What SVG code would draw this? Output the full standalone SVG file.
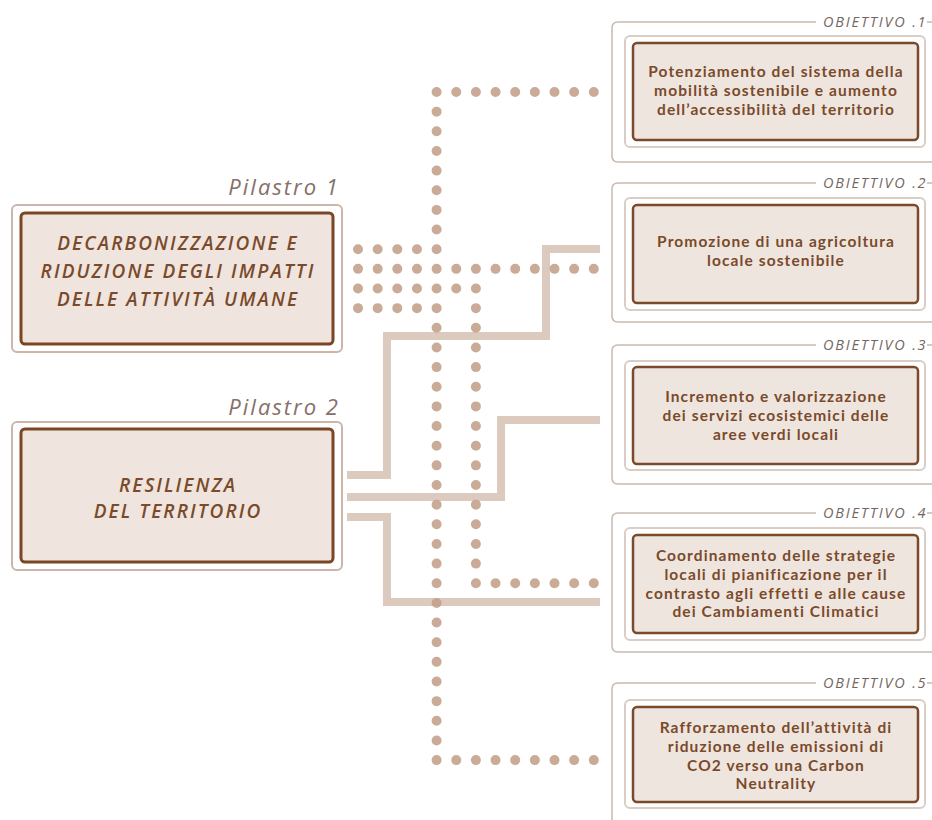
<svg xmlns="http://www.w3.org/2000/svg" width="932" height="820" viewBox="0 0 932 820">
<defs>
<style>
.bg{fill:#ffffff}
.pt{font-family:"Open Sans","Liberation Sans",sans-serif;font-style:italic;font-size:22px;fill:#86706a;letter-spacing:2px;text-anchor:end}
.po{fill:#ffffff;stroke:#cbb6a9;stroke-width:2}
.pi{fill:#efe4de;stroke:#7a4624;stroke-width:3}
.ptx{font-family:"Open Sans","Liberation Sans",sans-serif;font-style:italic;font-weight:600;font-size:19px;fill:#7a4a2a;letter-spacing:2.1px;text-anchor:middle}
.oo{fill:none;stroke:#c9b9af;stroke-width:1.5}
.om{fill:#ffffff;stroke:#dacdc5;stroke-width:2}
.oi{fill:#efe5df;stroke:#7a4a2a;stroke-width:2.5}
.otx{font-family:Lato,"Open Sans","Liberation Sans",sans-serif;font-weight:700;font-size:15.5px;fill:#7a4a2a;letter-spacing:1.1px;text-anchor:middle}
.ol{font-family:"Open Sans","Liberation Sans",sans-serif;font-style:italic;font-size:14.5px;fill:#74665f;letter-spacing:1.8px}
.sl{fill:none;stroke:#dccabf;stroke-width:8}
.dt{fill:none;stroke:#c4a28c;stroke-width:10;stroke-linecap:round;stroke-dasharray:0 19.65;opacity:0.9}
</style>
</defs>
<rect class="bg" x="0" y="0" width="932" height="820"/>

<g id="connectors">
  <path class="sl" d="M347 475 H387 V336 H546 V249 H600"/>
  <path class="sl" d="M347 497 H501 V420 H600"/>
  <path class="sl" d="M347 517 H387 V602 H600"/>
  <path class="dt" d="M358 249.2 H436.6 V92 H594.4"/>
  <path class="dt" d="M358 268.85 H594.4"/>
  <path class="dt" d="M358 288.5 H475.9 V583.25 H594.4"/>
  <path class="dt" d="M358 308.15 H436.6 V760.1 H594.4"/>
</g>

<g id="pilastro1">
  <text class="pt" x="340" y="195">Pilastro 1</text>
  <rect class="po" x="12" y="205" width="330" height="147" rx="5"/>
  <rect class="pi" x="21" y="213" width="312" height="131" rx="4"/>
  <text class="ptx" x="178" y="250">DECARBONIZZAZIONE E<tspan x="178" dy="28">RIDUZIONE DEGLI IMPATTI</tspan><tspan x="178" dy="28">DELLE ATTIVITÀ UMANE</tspan></text>
</g>

<g id="pilastro2">
  <text class="pt" x="340" y="415">Pilastro 2</text>
  <rect class="po" x="12" y="422" width="330" height="148" rx="5"/>
  <rect class="pi" x="21" y="429" width="312" height="133" rx="4"/>
  <text class="ptx" x="178" y="492">RESILIENZA<tspan x="178" dy="26">DEL TERRITORIO</tspan></text>
</g>

<g id="obiettivo1">
  <path class="oo" d="M816 22 H618 Q612 22 612 28 V156 Q612 162 618 162 H945 M927 22 H945"/>
  <text class="ol" x="823" y="27">OBIETTIVO .1</text>
  <rect class="om" x="625" y="36" width="300" height="111" rx="5"/>
  <rect class="oi" x="633" y="43" width="285" height="97" rx="4"/>
  <text class="otx" x="776" y="77">Potenziamento del sistema della<tspan x="776" dy="19">mobilità sostenibile e aumento</tspan><tspan x="776" dy="19">dell’accessibilità del territorio</tspan></text>
</g>

<g id="obiettivo2">
  <path class="oo" d="M816 183 H618 Q612 183 612 189 V316 Q612 322 618 322 H945 M927 183 H945"/>
  <text class="ol" x="823" y="188">OBIETTIVO .2</text>
  <rect class="om" x="625" y="198" width="300" height="112" rx="5"/>
  <rect class="oi" x="633" y="205" width="285" height="98" rx="4"/>
  <text class="otx" x="776" y="247">Promozione di una agricoltura<tspan x="776" dy="19">locale sostenibile</tspan></text>
</g>

<g id="obiettivo3">
  <path class="oo" d="M816 345 H618 Q612 345 612 351 V478 Q612 484 618 484 H945 M927 345 H945"/>
  <text class="ol" x="823" y="350">OBIETTIVO .3</text>
  <rect class="om" x="625" y="361" width="300" height="109" rx="5"/>
  <rect class="oi" x="633" y="367" width="285" height="97" rx="4"/>
  <text class="otx" x="776" y="402">Incremento e valorizzazione<tspan x="776" dy="18.8">dei servizi ecosistemici delle</tspan><tspan x="776" dy="18.8">aree verdi locali</tspan></text>
</g>

<g id="obiettivo4">
  <path class="oo" d="M816 513 H618 Q612 513 612 519 V646 Q612 652 618 652 H945 M927 513 H945"/>
  <text class="ol" x="823" y="518">OBIETTIVO .4</text>
  <rect class="om" x="625" y="528" width="300" height="112" rx="5"/>
  <rect class="oi" x="633" y="535" width="285" height="98" rx="4"/>
  <text class="otx" x="776" y="561">Coordinamento delle strategie<tspan x="776" dy="18.8">locali di pianificazione per il</tspan><tspan x="776" dy="18.8">contrasto agli effetti e alle cause</tspan><tspan x="776" dy="18.8">dei Cambiamenti Climatici</tspan></text>
</g>

<g id="obiettivo5">
  <path class="oo" d="M816 683 H618 Q612 683 612 689 V830 M927 683 H945"/>
  <text class="ol" x="823" y="688">OBIETTIVO .5</text>
  <rect class="om" x="625" y="700" width="300" height="108" rx="5"/>
  <rect class="oi" x="633" y="707" width="285" height="95" rx="4"/>
  <text class="otx" x="776" y="733">Rafforzamento dell’attività di<tspan x="776" dy="18.8">riduzione delle emissioni di</tspan><tspan x="776" dy="18.8">CO2 verso una Carbon</tspan><tspan x="776" dy="18.8">Neutrality</tspan></text>
</g>
</svg>
